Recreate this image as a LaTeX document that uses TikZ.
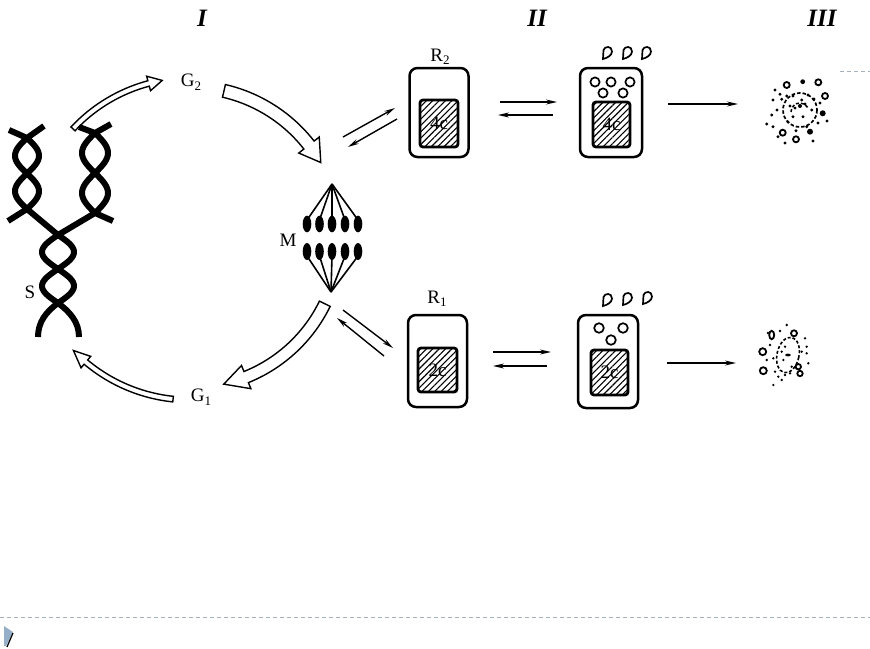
\documentclass[tikz,border=0pt]{standalone}
\usepackage{fontspec}
\setmainfont{Liberation Serif}
\usetikzlibrary{arrows.meta,patterns.meta}
\definecolor{dashgray}{RGB}{165,178,192}
\definecolor{markblue}{RGB}{150,175,200}
\newcommand\lowsub[1]{\raisebox{-0.4ex}{\fontsize{13}{13}\selectfont #1}}
\newcommand\hollowarc[8]{%
  \draw[hollow] plot[variable=\t,domain=#4:#5,samples=25] ({#1+(#3+#7)*cos(\t)},{#2+(#3+#7)*sin(\t)})
   -- ({#1+(#3+#8)*cos(#5)},{#2+(#3+#8)*sin(#5)})
   -- ({#1+#3*cos(#6)},{#2+#3*sin(#6)})
   -- ({#1+(#3-#8)*cos(#5)},{#2+(#3-#8)*sin(#5)})
   -- plot[variable=\t,domain=#5:#4,samples=25] ({#1+(#3-#7)*cos(\t)},{#2+(#3-#7)*sin(\t)})
   -- cycle;}
\tikzset{
  lab/.style={font=\fontsize{19}{19}\selectfont, inner sep=0pt},
  roman/.style={font=\fontsize{25}{25}\selectfont\bfseries\itshape, inner sep=0pt},
  hollow/.style={draw, fill=white, line width=1.4pt, line join=miter},
  strand/.style={line width=6pt},
  spindle/.style={line width=1.6pt},
  cellbox/.style={draw, line width=2.5pt, rounded corners=8pt, inner sep=0pt},
  nucleus/.style={draw, line width=2.8pt, rounded corners=3pt, pattern={Lines[angle=45,distance=4.5pt,line width=1.1pt]}, inner sep=0pt, font=\fontsize{19}{19}\selectfont},
  thinarrow/.style={line width=1.4pt, -{Stealth[length=11pt,width=5pt]}},
  vesicle/.style={line width=1.7pt},
  ringdot/.style={line width=1.8pt},
  droplet/.pic={\draw[line width=1.7pt] (-4,6) -- (-3.5,-3) .. controls (-2.5,-7) and (5,-7.5) .. (5,-1.5) .. controls (5,2.5) and (0,5) .. cycle;}
}
\begin{document}
\begin{tikzpicture}[x=1pt,y=-1pt]
\useasboundingbox (0,0) rectangle (870,648);

% column titles
\node[roman] (t1) at (202,18) {I};
\node[roman] (t2) at (537,18) {II};
\node[roman] (t3) at (822,18) {III};

% cycle labels
\node[lab] (g2) at (191,82) {G\lowsub{2}};
\node[lab] (g1) at (201,397) {G\lowsub{1}};
\node[lab] (m) at (288,240) {M};
\node[lab] (s) at (30,292) {S};

% hollow cycle arrows
\hollowarc{190}{238}{160}{-137}{-105}{-100}{2.8}{7.5}
\hollowarc{190}{238}{151}{-77}{-38}{-30}{6.5}{13}
\hollowarc{190}{238}{150}{26}{68}{77}{6}{12.5}
\hollowarc{190}{238}{162}{96}{130}{136}{2.8}{7.5}

% DNA replication fork
\draw[strand] plot[variable=\t,domain=138:209,samples=40] ({27+12*sin(180*(\t-138)/35.5)},\t);
\draw[strand] plot[variable=\t,domain=138:209,samples=40] ({27-12*sin(180*(\t-138)/35.5)},\t);
\draw[strand] (9,130) -- (27,138) -- (44,126);
\draw[strand] (8,221) -- (27,209) -- (58,235);
\draw[strand] plot[variable=\t,domain=133:213,samples=40] ({95+13*sin(180*(\t-133)/40)},\t);
\draw[strand] plot[variable=\t,domain=133:213,samples=40] ({95-13*sin(180*(\t-133)/40)},\t);
\draw[strand] (79,127) -- (95,133) -- (111,124);
\draw[strand] (113,221) -- (95,213) -- (58,235);
\draw[strand] plot[variable=\t,domain=235:303,samples=40] ({58+16*sin(180*(\t-235)/34)},\t);
\draw[strand] plot[variable=\t,domain=235:303,samples=40] ({58-16*sin(180*(\t-235)/34)},\t);
\draw[strand] (38,337) .. controls (38,322) and (46,312) .. (58,303) .. controls (70,312) and (79,322) .. (79,337);

% spindle
\coordinate (ptop) at (332,184);
\coordinate (pbot) at (331,292);
\foreach \xx in {307,319.5,332,345,358}{
  \draw[spindle] (ptop) -- (\xx,220);
  \draw[spindle] (pbot) -- (\xx,256);
  \fill (\xx,224) ellipse [x radius=4.3, y radius=8.3];
  \fill (\xx,251.5) ellipse [x radius=4.3, y radius=8.5];
}

% cells, top row
\node[lab] (r2) at (440,57) {R\lowsub{2}};
\node[cellbox, minimum width=59pt, minimum height=89pt] (c2a) at (439,112.5) {};
\node[nucleus, minimum width=38pt, minimum height=47pt] (n2a) at (439,123.5) {4c};
\node[cellbox, minimum width=62pt, minimum height=89pt] (c2b) at (611,112.5) {};
\node[nucleus, minimum width=37pt, minimum height=45pt] (n2b) at (611.5,124.5) {4c};
\foreach \p in {(595,82),(611,82),(630,82),(603,93),(623,93)}{\draw[vesicle] \p circle[radius=4.6];}
\pic at (607,53) {droplet};
\pic at (627,53) {droplet};
\pic at (646,53) {droplet};

% cells, bottom row
\node[lab] (r1) at (437,299) {R\lowsub{1}};
\node[cellbox, minimum width=59pt, minimum height=92pt] (c1a) at (437.5,361) {};
\node[nucleus, minimum width=39pt, minimum height=44pt] (n1a) at (437.5,370) {2c};
\node[cellbox, minimum width=60pt, minimum height=93pt] (c1b) at (608,361.5) {};
\node[nucleus, minimum width=37pt, minimum height=45pt] (n1b) at (609.5,372.5) {2c};
\foreach \p in {(599,328),(623,328),(611,340)}{\draw[vesicle] \p circle[radius=4.8];}
\pic at (607,300) {droplet};
\pic at (627,299) {droplet};
\pic at (647,298) {droplet};

% thin arrows
\coordinate (a1s) at (343,137); \coordinate (a1e) at (395,108);
\coordinate (a2s) at (397,119); \coordinate (a2e) at (348,147);
\draw[thinarrow] (a1s) -- (a1e);
\draw[thinarrow] (a2s) -- (a2e);
\coordinate (b1s) at (343,310); \coordinate (b1e) at (393,348);
\coordinate (b2s) at (384,356); \coordinate (b2e) at (337,318);
\draw[thinarrow] (b1s) -- (b1e);
\draw[thinarrow] (b2s) -- (b2e);
\coordinate (h1s) at (500,102); \coordinate (h1e) at (557,102);
\coordinate (h2s) at (553,115); \coordinate (h2e) at (498,115);
\draw[thinarrow] (h1s) -- (h1e);
\draw[thinarrow] (h2s) -- (h2e);
\coordinate (k1s) at (493,352); \coordinate (k1e) at (551,352);
\coordinate (k2s) at (547,366); \coordinate (k2e) at (493,366);
\draw[thinarrow] (k1s) -- (k1e);
\draw[thinarrow] (k2s) -- (k2e);
\coordinate (d1s) at (668,104); \coordinate (d1e) at (738,104);
\coordinate (d2s) at (667,363); \coordinate (d2e) at (736,363);
\draw[thinarrow] (d1s) -- (d1e);
\draw[thinarrow] (d2s) -- (d2e);

% III top cluster
\draw[line width=1.7pt, dash pattern=on 3.5pt off 2pt] (800,110) circle[radius=17];
\draw[line width=1.5pt, dash pattern=on 3pt off 2pt] (791,112) arc[start angle=180, end angle=330, radius=9];
\foreach \p in {(786.7,85),(818.3,82.3),(825,96),(782.7,132.7),(796,139.3)}{\draw[ringdot] \p circle[radius=3];}
\foreach \p/\r in {(802.7,81.7)/2.4,(810,131.7)/3,(822.7,113.3)/3,(800,106)/2}{\fill \p circle[radius=\r];}
\foreach \p in {(780,94.3),(773,100),(781.7,99.3),(786.7,96),(793,96),(771.7,115),(766.7,124),(773,126.7),(778,136.7),(785,143),(820,103),(818,123),(811.7,110),(803,116.7),(793,116.7),(795,108),(801.7,100),(806.7,126.7),(796,130.7),(777,110),(788,122),(814,99),(805,104),(790,106),(827,121),(813,141),(775,90),(808,95)}{\fill \p circle[radius=1.6];}

% III bottom cluster
\draw[line width=1.6pt, dash pattern=on 3pt off 2pt, rotate around={-12:(788,355)}] (788,355) ellipse[x radius=11, y radius=18];
\fill (788,355) ellipse[x radius=2.8, y radius=1.4];
\draw[ringdot] (771.7,335) ellipse[x radius=2.5, y radius=4.2];
\foreach \p/\r in {(794,333.3)/3,(762.7,351.7)/3.5,(763.3,370.7)/3.5,(798.3,366.7)/2.7,(800,373.5)/2.7}{\draw[ringdot] \p circle[radius=\r];}
\foreach \p in {(781.7,351.7),(783.3,360),(785,346.7),(791.7,366.7),(786.7,325),(780,331),(805,338.3),(806.7,346.7),(806.7,353.3),(808.3,363.3),(801.7,351.7),(770,345),(766.7,360),(773.3,358.3),(775,371.7),(778.3,376.7),(781.7,380),(773.3,385),(785,375),(790,373.3),(768,333)}{\fill \p circle[radius=1.3];}

% page decorations
\draw[dashgray, line width=0.8pt, dash pattern=on 4pt off 3pt] (840,71) -- (870,71);
\draw[dashgray, line width=0.8pt, dash pattern=on 4pt off 3pt] (0,617) -- (870,617);
\fill[markblue] (4,626) -- (13,632) -- (6,646) -- (4,646) -- cycle;
\draw[line width=1.2pt] (13,633) -- (7,647);
\end{tikzpicture}
\end{document}
